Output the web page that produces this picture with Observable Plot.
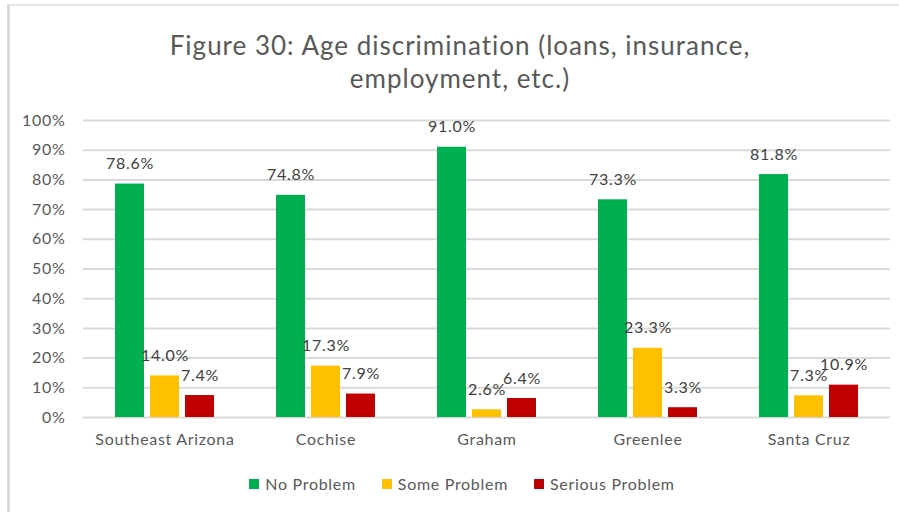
<!DOCTYPE html>
<html>
<head>
<meta charset="utf-8">
<script src="https://cdn.jsdelivr.net/npm/d3@7"></script>
<script src="https://cdn.jsdelivr.net/npm/@observablehq/plot@0.6"></script>
<style>
  html, body { margin: 0; padding: 0; background: #fff; }
  #chart { position: relative; width: 899px; height: 512px; overflow: hidden; font-family: Lato, "Open Sans", sans-serif; background:#fff; }
  #frame { position: absolute; left: 7px; top: 4px; width: 910px; height: 530px; border-left: 3px solid #d9d9d9; border-top: 2px solid #e6e6e6; box-sizing: border-box; }
  #title { position: absolute; left: 20px; width: 880px; top: 29px; text-align: center; font-size: 26px; letter-spacing: 1px; line-height: 33px; color: #595959; }
  .layer { position: absolute; left: 0; top: 100px; }
  #legend { position: absolute; top: 474px; left: 0; width: 924px; display: flex; justify-content: center; gap: 26px; font-size: 16px; letter-spacing: 0.7px; color: #595959; }
  #legend .item { display: flex; align-items: center; }
  #legend .sw { width: 10px; height: 10px; margin-right: 6px; }
</style>
</head>
<body>
<div id="chart">
  <div id="frame"></div>
  <div id="title">Figure 30: Age discrimination (loans, insurance,<br>employment, etc.)</div>
  <div id="bg" class="layer"></div>
  <div id="fg" class="layer"></div>
  <div id="legend"></div>
</div>
<script>
const categories = ["Southeast Arizona", "Cochise", "Graham", "Greenlee", "Santa Cruz"];
const series = ["No Problem", "Some Problem", "Serious Problem"];
const noProblem = [78.6, 74.8, 91.0, 73.3, 81.8];
const someProblem = [14.0, 17.3, 2.6, 23.3, 7.3];
const seriousProblem = [7.4, 7.9, 6.4, 3.3, 10.9];
const colors = ["#00B050", "#FFC000", "#C00000"];
const yTicks = [0, 10, 20, 30, 40, 50, 60, 70, 80, 90, 100];

const seriesValues = [noProblem, someProblem, seriousProblem];
const table = [];
categories.forEach((c, i) => {
  series.forEach((s, j) => table.push({category: c, series: s, value: seriesValues[j][i]}));
});

const W = 899, H = 360;
const common = {width: W, height: H, marginLeft: 83, marginRight: 9, marginTop: 20, marginBottom: 43};
const textStyle = {fontFamily: "Lato, 'Open Sans', sans-serif", fontSize: "16px", letterSpacing: "0.7px", color: "#595959", background: "transparent"};

const bg = Plot.plot({
  ...common,
  style: textStyle,
  x: {axis: null, domain: [0, 1]},
  y: {domain: [0, 100], ticks: yTicks, tickFormat: d => d + "%", tickSize: 0, tickPadding: 18, label: null},
  marks: [
    Plot.ruleY(yTicks, {stroke: "#d9d9d9", strokeWidth: 2})
  ]
});
document.getElementById("bg").appendChild(bg);

const fg = Plot.plot({
  ...common,
  style: textStyle,
  facet: {data: table, x: "category"},
  fx: {domain: categories, paddingInner: 0.374, paddingOuter: 0.187, label: null, tickSize: 0, tickPadding: 16},
  x: {domain: series, axis: null, paddingInner: 0.17, paddingOuter: 0},
  y: {domain: [0, 100], axis: null},
  color: {domain: series, range: colors},
  marks: [
    Plot.barY(table, {x: "series", y: "value", fill: "series"}),
    Plot.text(table, {x: "series", y: "value", text: d => d.value.toFixed(1) + "%", dy: -20, fill: "#404040", fontSize: 16})
  ]
});
document.getElementById("fg").appendChild(fg);

const legend = document.getElementById("legend");
series.forEach((s, i) => {
  const item = document.createElement("div");
  item.className = "item";
  const sw = document.createElement("span");
  sw.className = "sw";
  sw.style.background = colors[i];
  const t = document.createElement("span");
  t.textContent = s;
  item.appendChild(sw);
  item.appendChild(t);
  legend.appendChild(item);
});
</script>
</body>
</html>
